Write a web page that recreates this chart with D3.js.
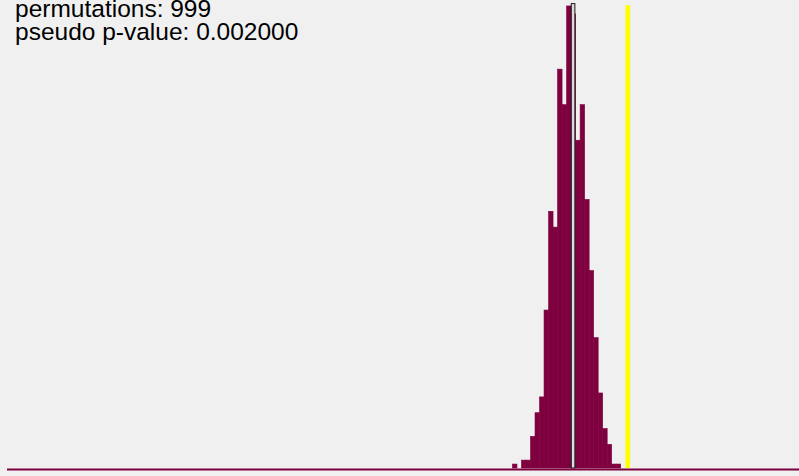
<!DOCTYPE html>
<html>
<head>
<meta charset="utf-8">
<script src="https://cdn.jsdelivr.net/npm/d3@7"></script>
<style>
  html, body { margin: 0; padding: 0; background: #f0f0f0; }
  svg { display: block; }
</style>
</head>
<body>
<svg id="chart" width="799" height="476"></svg>
<script>
// ---- data ----
const permutations = 999;
const pseudoP = "0.002000";
const binStart = -0.1379;      // lower edge of first bin
const binWidth = 0.01;
const binCounts = [1, 0, 2, 2, 8, 14, 18, 40, 65, 61, 101, 92, 117, 115, 83, 92, 68, 50, 33, 19, 10, 6, 1, 1];
const expectedI = -0.0035;     // mean marker (outlined bar)
const observedI = 0.1177;      // yellow line
const xDomain = [-1.2586, 0.4974];
const yMax = 118;

// ---- drawing ----
const svg = d3.select("#chart");
const x = d3.scaleLinear().domain(xDomain).range([7, 799]);
const y = d3.scaleLinear().domain([0, yMax]).range([468, 2]);

const bins = binCounts.map((c, i) => ({
  x0: binStart + i * binWidth,
  x1: binStart + (i + 1) * binWidth,
  count: c
}));

svg.append("g").selectAll("rect")
  .data(bins.filter(d => d.count > 0))
  .join("rect")
  .attr("x", d => x(d.x0))
  .attr("width", d => x(d.x1) - x(d.x0))
  .attr("y", d => y(d.count))
  .attr("height", d => y(0) - y(d.count))
  .attr("fill", "#7f003f")
  .attr("stroke", "#7f003f")
  .attr("stroke-width", 0.6);

// expected value marker
const mW = 3.6;
svg.append("rect")
  .attr("x", x(expectedI) - mW / 2)
  .attr("width", mW)
  .attr("y", y(117.6))
  .attr("height", y(0) - y(117.6))
  .attr("fill", "#dcdcdc")
  .attr("stroke", "#1a1a1a")
  .attr("stroke-width", 1);

// observed statistic line
const oW = 4.6;
svg.append("rect")
  .attr("x", x(observedI) - oW / 2)
  .attr("width", oW)
  .attr("y", y(117.2))
  .attr("height", y(0) - y(117.2))
  .attr("fill", "#ffff00");

// baseline
svg.append("line")
  .attr("x1", x(xDomain[0])).attr("x2", x(xDomain[1]))
  .attr("y1", 469.5).attr("y2", 469.5)
  .attr("stroke", "#7f003f")
  .attr("stroke-width", 2);

// text
const txt = svg.append("g")
  .attr("font-family", "Liberation Sans, Arial, sans-serif")
  .attr("font-size", "24.5px")
  .attr("fill", "#000");
txt.append("text").attr("x", 15).attr("y", 17).text("permutations: " + permutations);
txt.append("text").attr("x", 15).attr("y", 39.5).text("pseudo p-value: " + pseudoP);
</script>
</body>
</html>
